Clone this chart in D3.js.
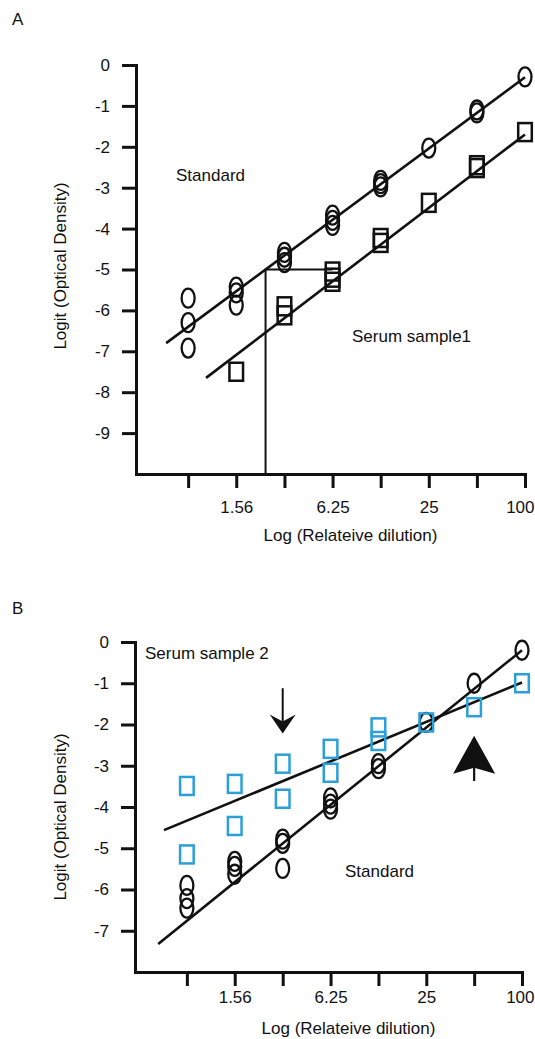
<!DOCTYPE html>
<html>
<head>
<meta charset="utf-8">
<script src="https://cdn.jsdelivr.net/npm/d3@7"></script>
<style>
  html, body { margin: 0; padding: 0; background: #fff; }
  svg { display: block; }
</style>
</head>
<body>
<svg id="chart" width="535" height="1039"></svg>
<script>
// Two-fold dilution series (relative dilution) and their axis labels
const dilutions = [0.78, 1.56, 3.125, 6.25, 12.5, 25, 50, 100];
const dilutionLabels = ["", "1.56", "", "6.25", "", "25", "", "100"];

// Panel A: logit(OD) replicates per dilution
const standardA = [
  [-5.7, -6.3, -6.92],
  [-5.43, -5.57, -5.87],
  [-4.58, -4.7, -4.83],
  [-3.67, -3.8, -3.92],
  [-2.82, -2.9, -2.98],
  [-2.03],
  [-1.1, -1.17],
  [-0.29]
];
const serum1A = [
  [],
  [-7.5],
  [-5.9, -6.12],
  [-5.05, -5.2, -5.3],
  [-4.23, -4.35],
  [-3.37],
  [-2.45, -2.52],
  [-1.64]
];
// Fitted lines, as [dilution, logit] end points
const standardFitA = [[0.568, -6.8], [100, -0.3]];
const serum1FitA = [[1.01, -7.65], [100, -1.7]];
// Read-off guide: logit -5 on the standard, carried across to sample 1
const readOffA = [[2.38, -10], [2.38, -5], [6.25, -5]];

// Panel B
const standardB = [
  [-5.9, -6.22, -6.45],
  [-5.32, -5.44, -5.63],
  [-4.78, -4.88, -5.49],
  [-3.78, -3.93, -4.05],
  [-2.95, -3.07],
  [-1.95],
  [-1.0],
  [-0.2]
];
const serum2B = [
  [-3.49, -5.15],
  [-3.44, -4.46],
  [-2.95, -3.8],
  [-2.59, -3.17],
  [-2.07, -2.4],
  [-1.95],
  [-1.58],
  [-1.0]
];
const standardFitB = [[0.515, -7.32], [100, -0.2]];
const serum2FitB = [[0.56, -4.56], [100, -0.98]];
// Arrow annotations: [dilution, tip logit, tail logit]
const downArrowB = [3.125, -2.22, -1.12];
const upArrowB = [50, -2.27, -3.37];

const yTicksA = d3.range(0, -10, -1);
const yTicksB = d3.range(0, -8, -1);

const FONT = "'Liberation Sans', Arial, Helvetica, sans-serif";
const INK = "#111";
const BLUE = "#2b9fd8";

const svg = d3.select("#chart");
svg.append("rect").attr("width", 535).attr("height", 1039).attr("fill", "#fff");

function flatten(series) {
  const out = [];
  series.forEach((vals, i) => vals.forEach(v => out.push([dilutions[i], v])));
  return out;
}

function drawPanel(cfg) {
  const g = svg.append("g");
  const x = d3.scaleLog().base(2).domain([0.368, 100]).range(cfg.xRange);
  const y = d3.scaleLinear().domain(cfg.yDomain).range(cfg.yRange);

  // panel letter
  g.append("text").attr("x", cfg.letterPos[0]).attr("y", cfg.letterPos[1])
    .attr("font-family", FONT).attr("font-size", 17).attr("fill", INK)
    .text(cfg.letter);

  // y axis
  const ya = d3.axisLeft(y).tickValues(cfg.yTicks).tickSize(14).tickSizeOuter(0)
    .tickPadding(12).tickFormat(d => String(d));
  const gy = g.append("g").attr("transform", `translate(${cfg.xRange[0]},0)`).call(ya);

  // x axis
  const xa = d3.axisBottom(x).tickValues(dilutions).tickSize(14).tickSizeOuter(0)
    .tickPadding(cfg.xPad).tickFormat((d, i) => dilutionLabels[i]);
  const gx = g.append("g").attr("transform", `translate(0,${cfg.yRange[0]})`).call(xa);

  [gx, gy].forEach(a => {
    a.select(".domain").attr("stroke", INK).attr("stroke-width", 3).attr("stroke-linecap", "square");
    a.selectAll(".tick line").attr("stroke", INK).attr("stroke-width", 3);
    a.selectAll(".tick text").attr("font-family", FONT).attr("font-size", 17).attr("fill", INK);
  });
  // keep the last dilution label inside the page edge
  gx.selectAll(".tick text").filter(d => d === 100)
    .attr("text-anchor", "end").attr("x", 534 - cfg.xRange[1]);

  // axis titles
  g.append("text").attr("x", (cfg.xRange[0] + cfg.xRange[1]) / 2 + 20).attr("y", cfg.xTitleY)
    .attr("text-anchor", "middle").attr("font-family", FONT).attr("font-size", 17)
    .attr("fill", INK).text("Log (Relateive dilution)");
  g.append("text")
    .attr("transform", `translate(${cfg.yTitleX},${cfg.yTitleY}) rotate(-90)`)
    .attr("text-anchor", "middle").attr("dominant-baseline", "central")
    .attr("font-family", FONT).attr("font-size", 17).attr("fill", INK)
    .text("Logit (Optical Density)");

  const line = d3.line().x(d => x(d[0])).y(d => y(d[1]));

  // guide lines
  if (cfg.guide) {
    g.append("path").datum(cfg.guide).attr("d", line)
      .attr("fill", "none").attr("stroke", INK).attr("stroke-width", 2);
  }

  // fitted lines
  cfg.fits.forEach(f => {
    g.append("path").datum(f).attr("d", line)
      .attr("fill", "none").attr("stroke", INK).attr("stroke-width", 2.6);
  });

  // circles (standard)
  g.append("g").selectAll("ellipse").data(flatten(cfg.circles)).join("ellipse")
    .attr("cx", d => x(d[0])).attr("cy", d => y(d[1]))
    .attr("rx", 6.5).attr("ry", 9.5)
    .attr("fill", "none").attr("stroke", INK).attr("stroke-width", 2.3);

  // squares (serum)
  g.append("g").selectAll("rect").data(flatten(cfg.squares)).join("rect")
    .attr("x", d => x(d[0]) - 6.8).attr("y", d => y(d[1]) - 9)
    .attr("width", 13.6).attr("height", 18)
    .attr("fill", "none").attr("stroke", cfg.squareColor).attr("stroke-width", 2.5);

  // series labels
  cfg.labels.forEach(l => {
    g.append("text").attr("x", l[0]).attr("y", l[1])
      .attr("dominant-baseline", "central")
      .attr("font-family", FONT).attr("font-size", 17).attr("fill", INK).text(l[2]);
  });

  return { g, x, y };
}

// Panel A
drawPanel({
  letter: "A", letterPos: [12, 25],
  xRange: [136, 525], yDomain: [-10, 0], yRange: [474, 65],
  yTicks: yTicksA, xPad: 13, xTitleY: 541, yTitleX: 60, yTitleY: 266,
  fits: [standardFitA, serum1FitA], guide: readOffA,
  circles: standardA, squares: serum1A, squareColor: INK,
  labels: [[176, 175, "Standard"], [352, 336, "Serum sample1"]]
});

// Panel B
const pB = drawPanel({
  letter: "B", letterPos: [12, 614],
  xRange: [135, 522], yDomain: [-8, 0], yRange: [972, 642],
  yTicks: yTicksB, xPad: 5, xTitleY: 1034, yTitleX: 60, yTitleY: 817,
  fits: [standardFitB, serum2FitB], guide: null,
  circles: standardB, squares: serum2B, squareColor: BLUE,
  labels: [[145, 653, "Serum sample 2"], [345, 871, "Standard"]]
});

// Arrow annotations in panel B
(function () {
  const { g, x, y } = pB;
  // small downward arrow
  const dx = x(downArrowB[0]), dTip = y(downArrowB[1]), dTail = y(downArrowB[2]);
  g.append("line").attr("x1", dx).attr("x2", dx).attr("y1", dTail).attr("y2", dTip - 8)
    .attr("stroke", INK).attr("stroke-width", 2);
  g.append("path")
    .attr("d", `M${dx},${dTip} L${dx - 13},${dTip - 19} L${dx},${dTip - 12} L${dx + 13},${dTip - 19} Z`)
    .attr("fill", INK);
  // large upward arrowhead
  const ux = x(upArrowB[0]), uTip = y(upArrowB[1]), uTail = y(upArrowB[2]);
  g.append("line").attr("x1", ux).attr("x2", ux).attr("y1", uTip + 30).attr("y2", uTail)
    .attr("stroke", INK).attr("stroke-width", 2.2);
  g.append("path")
    .attr("d", `M${ux},${uTip} L${ux + 21},${uTip + 38} L${ux},${uTip + 32} L${ux - 21},${uTip + 38} Z`)
    .attr("fill", INK);
})();
</script>
</body>
</html>
